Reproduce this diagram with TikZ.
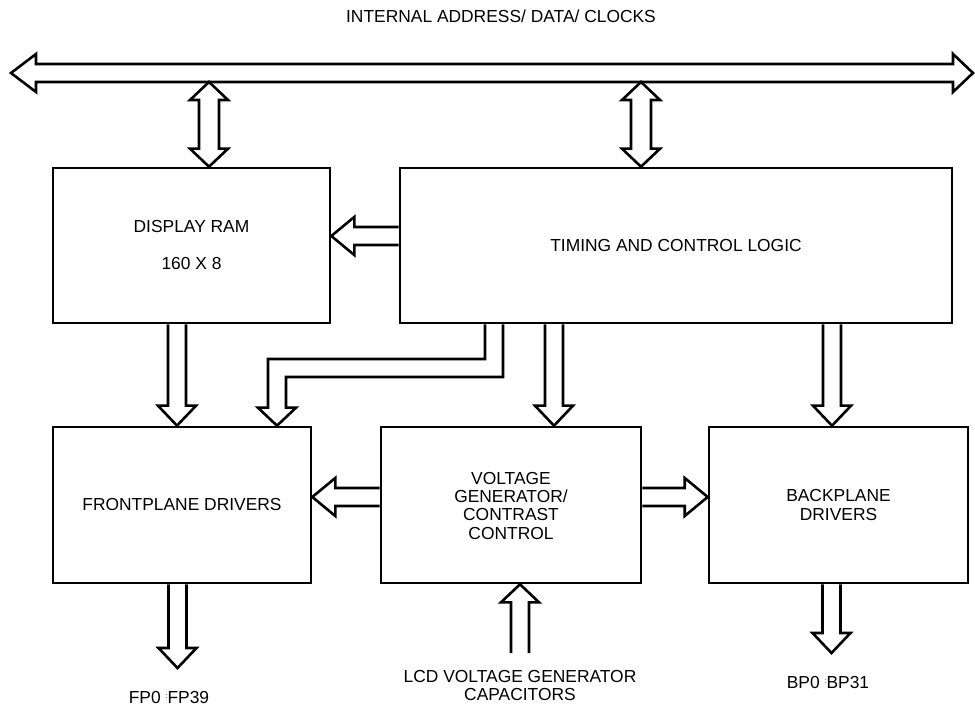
\documentclass[tikz,border=0pt]{standalone}
\usepackage{fontspec}
\setmainfont{Liberation Sans}
\usetikzlibrary{calc}

% hollow block arrows: start point (x,y), end point (y or x only)
\newcommand\blkdown[2]{%
  \draw[blk] let \p1=(#1), \p2=(#2) in
    (\x1-9pt,\y1) -- (\x1-9pt,\y2+20pt) -- (\x1-19pt,\y2+20pt) -- (\x1,\y2)
    -- (\x1+19pt,\y2+20pt) -- (\x1+9pt,\y2+20pt) -- (\x1+9pt,\y1);}
\newcommand\blkup[2]{%
  \draw[blk] let \p1=(#1), \p2=(#2) in
    (\x1-9pt,\y1) -- (\x1-9pt,\y2-18pt) -- (\x1-19pt,\y2-18pt) -- (\x1,\y2)
    -- (\x1+19pt,\y2-18pt) -- (\x1+9pt,\y2-18pt) -- (\x1+9pt,\y1);}
\newcommand\blkleft[2]{%
  \draw[blk] let \p1=(#1), \p2=(#2) in
    (\x1,\y1+9pt) -- (\x2+23pt,\y1+9pt) -- (\x2+23pt,\y1+19pt) -- (\x2,\y1)
    -- (\x2+23pt,\y1-19pt) -- (\x2+23pt,\y1-9pt) -- (\x1,\y1-9pt);}
\newcommand\blkright[2]{%
  \draw[blk] let \p1=(#1), \p2=(#2) in
    (\x1,\y1+9pt) -- (\x2-23pt,\y1+9pt) -- (\x2-23pt,\y1+19pt) -- (\x2,\y1)
    -- (\x2-23pt,\y1-19pt) -- (\x2-23pt,\y1-9pt) -- (\x1,\y1-9pt);}
\newcommand\blkboth[2]{%
  \draw[blk] let \p1=(#1), \p2=(#2) in
    (\x1,\y1) -- (\x1+19pt,\y1-18pt) -- (\x1+10pt,\y1-18pt) -- (\x1+10pt,\y2+18pt)
    -- (\x1+19pt,\y2+18pt) -- (\x1,\y2) -- (\x1-19pt,\y2+18pt) -- (\x1-10pt,\y2+18pt)
    -- (\x1-10pt,\y1-18pt) -- (\x1-19pt,\y1-18pt) -- cycle;}
\newcommand\pinsep{\raisebox{5pt}{\fontsize{7}{7}\selectfont :}}

\begin{document}
\begin{tikzpicture}[
    x=1pt, y=-1pt,
    txt/.style={font=\fontsize{17.4}{21}\selectfont, align=center, inner sep=0pt},
    block/.style={draw, line width=2.6pt, minimum height=155pt, inner sep=0pt, align=center, font=\fontsize{17.4}{21}\selectfont},
    blk/.style={draw, line width=2.6pt, line join=miter}
  ]
    \useasboundingbox (0,0) rectangle (975,708);

    % blocks
    \node[block, minimum width=277pt] (ram) at (191.5,245.5) {DISPLAY RAM\\[16pt]160 X 8};
    \node[block, minimum width=552pt] (timing) at (676,245.5) {TIMING AND CONTROL LOGIC};
    \node[block, minimum width=258pt, minimum height=156pt] (front) at (182,505) {FRONTPLANE DRIVERS};
    \node[block, minimum width=260pt, minimum height=156pt, font=\fontsize{17.4}{18.4}\selectfont] (volt) at (511,505) {\\[-5pt]VOLTAGE\\GENERATOR/\\CONTRAST\\CONTROL};
    \node[block, minimum width=259pt, minimum height=156pt, font=\fontsize{17.4}{19}\selectfont] (back) at (838.5,505) {BACKPLANE\\DRIVERS};

    % bus
    \node[txt] (buslabel) at (501,16) {INTERNAL ADDRESS/ DATA/ CLOCKS};
    \coordinate (busL) at (11,73);
    \coordinate (busR) at (973,73);
    \draw[blk] let \p1=(busL), \p2=(busR) in
      (\x1,\y1) -- (\x1+25pt,\y1+19pt) -- (\x1+25pt,\y1+9pt) -- (\x2-20pt,\y1+9pt)
      -- (\x2-20pt,\y1+19pt) -- (\x2,\y1) -- (\x2-20pt,\y1-19pt) -- (\x2-20pt,\y1-9pt)
      -- (\x1+25pt,\y1-9pt) -- (\x1+25pt,\y1-19pt) -- cycle;
    \coordinate (tap1) at (209,82);
    \coordinate (tap2) at (641,82);
    \blkboth{tap1}{ram.north}
    \blkboth{tap2}{timing.north}

    % timing and control outputs
    \blkleft{[yshift=9.5pt]timing.west}{ram.east}
    \blkdown{[xshift=-14.5pt]ram.south}{front.north}
    \coordinate (bend) at (277,368);
    \draw[blk] let \p1=([xshift=-182pt]timing.south), \p2=([xshift=95pt]front.north), \p3=(bend) in
      (\x1-9pt,\y1) -- (\x1-9pt,\y3+9pt) -- (\x2-9pt,\y3+9pt) -- (\x2-9pt,\y2+18pt)
      -- (\x2-19pt,\y2+18pt) -- (\x2,\y2) -- (\x2+19pt,\y2+18pt) -- (\x2+9pt,\y2+18pt)
      -- (\x2+9pt,\y3-9pt) -- (\x1+9pt,\y3-9pt) -- (\x1+9pt,\y1);
    \blkdown{[xshift=-122pt]timing.south}{volt.north}
    \blkdown{[xshift=156pt]timing.south}{back.north}

    % voltage generator outputs
    \blkleft{[yshift=8pt]volt.west}{front.east}
    \blkright{[yshift=8pt]volt.east}{back.west}

    % pins
    \coordinate (fpout) at (177,668);
    \coordinate (bpout) at (831,653);
    \coordinate (capin) at (520,653);
    \blkdown{[xshift=-4.5pt]front.south}{fpout}
    \blkdown{[xshift=-7pt]back.south}{bpout}
    \blkup{capin}{volt.south}
    \node[txt] (fplabel) at (169,698) {FP0 \pinsep FP39};
    \node[txt] (bplabel) at (828,683) {BP0 \pinsep BP31};
    \node[txt, font=\fontsize{17.4}{18}\selectfont] (caplabel) at (520,686) {LCD VOLTAGE GENERATOR\\CAPACITORS};
  \end{tikzpicture}
\end{document}
